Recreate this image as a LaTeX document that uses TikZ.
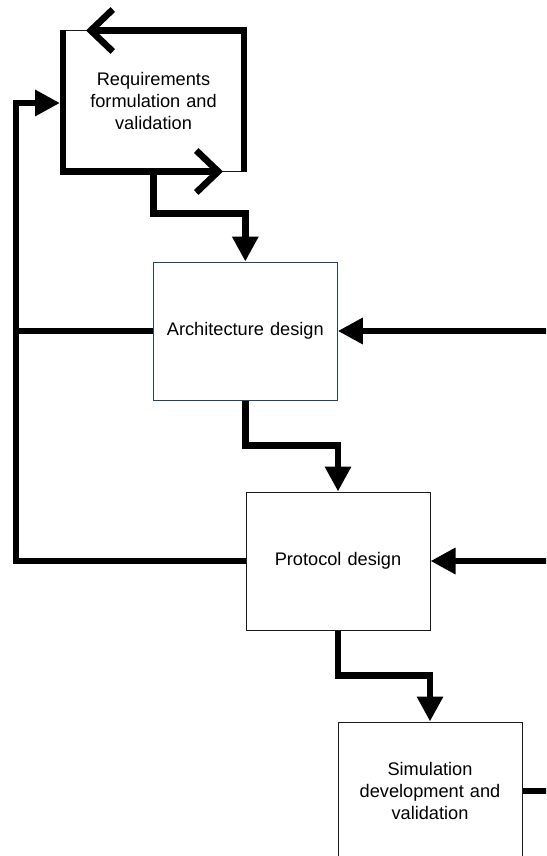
\documentclass[tikz,border=0pt]{standalone}
\usepackage{fontspec}
\setmainfont{Liberation Sans}
\usetikzlibrary{arrows.meta}
\definecolor{archedge}{HTML}{23445D}
\definecolor{boxedge}{HTML}{1A1A1A}
\begin{document}
\begin{tikzpicture}[x=1pt,y=-1pt,
  box/.style={draw=boxedge, line width=1pt, fill=white,
    minimum width=184pt, minimum height=138pt, inner sep=0pt,
    align=center, text width=170pt,
    font=\fontsize{18.2}{22}\selectfont},
  flow/.style={line width=6.6pt, draw=black, line join=miter},
  tip/.style={-{Triangle[length=25pt,width=25pt]}},
  barb/.style={-{Straight Barb[length=22pt,width=42pt]}}]
\useasboundingbox (0,0) rectangle (546,856);
\clip (0,0) rectangle (546,856);

% process steps
\node[box, minimum width=180pt, minimum height=140pt] (req) at (153.5,101)
  {Requirements\\formulation and\\validation};
\node[box, draw=archedge] (arch) at (245.3,331) {Architecture design};
\node[box] (proto) at (338,561) {Protocol design};
\node[box] (sim) at (430,791) {Simulation\\development and\\validation};

% helper coordinates: feedback rail on the left, page edge on the right
\coordinate (rail) at (16,0);
\coordinate (edge) at (552,0);

% iteration loop around the requirements step
\draw[flow, barb] (req.south east) -- (req.north east) -- ([xshift=23pt]req.north west);
\draw[flow, barb] (req.north west) -- (req.south west) -- ([xshift=-21pt]req.south east);

% forward flow
\draw[flow, tip] (req.south) -- ++(0,42) -| (arch.north);
\draw[flow, tip] (arch.south) -- ++(0,45) -| (proto.north);
\draw[flow, tip] (proto.south) -- ++(0,45) -| (sim.north);

% feedback to requirements
\draw[flow, tip] (proto.west) -- (proto.west -| rail) |- ([shift={(-3pt,-2pt)}]req.west);
\draw[flow] (arch.west) -- (arch.west -| rail);

% inputs from the right and output of the simulation step
\draw[flow, tip] (arch.east -| edge) -- (arch.east);
\draw[flow, tip] (proto.east -| edge) -- (proto.east);
\draw[flow] (sim.east) -- (sim.east -| edge);
\end{tikzpicture}
\end{document}
